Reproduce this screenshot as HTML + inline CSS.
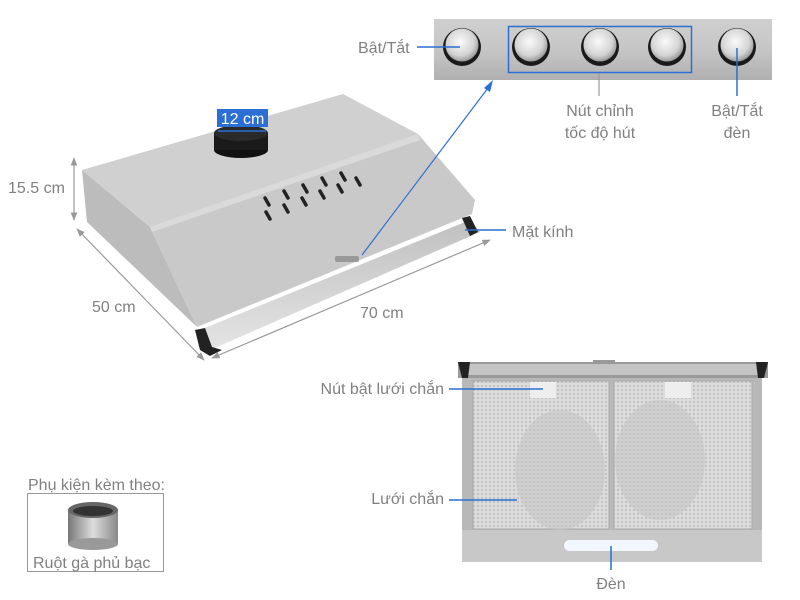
<!DOCTYPE html>
<html><head><meta charset="utf-8"><style>
html,body{margin:0;padding:0;background:#fff;}
svg{display:block;}
text{font-family:"Liberation Sans","Noto Sans CJK SC",sans-serif;fill:#808080;font-size:16px;}
</style></head><body>
<svg width="800" height="600" viewBox="0 0 800 600" xmlns="http://www.w3.org/2000/svg">
<defs>
<linearGradient id="panel" x1="0" y1="0" x2="0" y2="1">
<stop offset="0" stop-color="#cfcfcf"/><stop offset="0.5" stop-color="#c6c6c6"/><stop offset="1" stop-color="#b0b0b0"/></linearGradient>
<radialGradient id="btn" cx="0.45" cy="0.4" r="0.6">
<stop offset="0" stop-color="#fafafa"/><stop offset="0.7" stop-color="#d4d4d4"/><stop offset="1" stop-color="#999"/></radialGradient>
<pattern id="mesh" width="4" height="4" patternUnits="userSpaceOnUse">
<rect width="4" height="4" fill="#dcdcdc"/><circle cx="2" cy="2" r="0.9" fill="#b0b0b0"/></pattern>
<linearGradient id="glass" x1="0" y1="0" x2="0" y2="1"><stop offset="0" stop-color="#c0c0c0"/><stop offset="1" stop-color="#e4e4e4"/></linearGradient>
<linearGradient id="duct" x1="0" y1="0" x2="1" y2="0"><stop offset="0" stop-color="#777"/><stop offset="0.5" stop-color="#ddd"/><stop offset="1" stop-color="#888"/></linearGradient>
<marker id="ah" viewBox="0 0 10 10" refX="9" refY="5" markerWidth="7" markerHeight="7" orient="auto-start-reverse"><path d="M0,1 L10,5 L0,9 z" fill="#999"/></marker>
</defs>

<!-- Hood perspective -->
<polygon points="200,330 470,220 480,232 210,350" fill="url(#glass)"/>
<polygon points="82,170 87,222 197,327 150,227" fill="#bcbcbc"/>
<polygon points="82,170 343,94 418,134 150,227" fill="#d0d0d0"/>
<polygon points="150,227 418,134 475,200 472,214 197,327" fill="#c9c9c9"/>
<polygon points="150,227 418,134 420,140 152,232" fill="#dadada"/>
<g stroke="#222" stroke-width="3.5" stroke-linecap="round">
<line x1="265" y1="198" x2="269" y2="205"/><line x1="266" y1="212" x2="270" y2="219"/>
<line x1="284" y1="191" x2="288" y2="198"/><line x1="284" y1="205" x2="288" y2="212"/>
<line x1="303" y1="185" x2="307" y2="192"/><line x1="302" y1="198" x2="306" y2="205"/>
<line x1="322" y1="178" x2="326" y2="185"/><line x1="320" y1="191" x2="324" y2="198"/>
<line x1="341" y1="173" x2="345" y2="180"/><line x1="338" y1="185" x2="342" y2="192"/>
<line x1="356" y1="178" x2="360" y2="185"/>
</g>
<g fill="#999"><rect x="335" y="256" width="24" height="6" rx="2"/></g>
<polygon points="195,330 205,328 212,347 222,350 210,356 200,350" fill="#222"/>
<polygon points="462,218 470,216 478,232 470,236" fill="#222"/>
<!-- duct -->
<ellipse cx="241" cy="150" rx="27" ry="8" fill="#111"/>
<rect x="214" y="133" width="54" height="17" fill="#1a1a1a"/>
<ellipse cx="241" cy="133" rx="27" ry="8" fill="#2a2a2a"/>
<rect x="217" y="109" width="51" height="18" fill="#2b6fd4"/>
<text x="242.5" y="124" text-anchor="middle" style="fill:#fff;font-size:16px">12 cm</text>
<line x1="218" y1="131" x2="266" y2="131" stroke="#2b6fd4" stroke-width="1.5"/>

<!-- dimension lines -->
<g stroke="#999" stroke-width="1.2">
<line x1="74" y1="158" x2="74" y2="220" marker-start="url(#ah)" marker-end="url(#ah)"/>
<line x1="77" y1="229" x2="204" y2="360" marker-start="url(#ah)" marker-end="url(#ah)"/>
<line x1="212" y1="358" x2="490" y2="240" marker-start="url(#ah)" marker-end="url(#ah)"/>
</g>
<text x="8" y="193">15.5 cm</text>
<text x="92" y="312">50 cm</text>
<text x="360" y="318">70 cm</text>

<!-- control panel -->
<rect x="434" y="19" width="338" height="61" fill="url(#panel)"/>
<g>
<circle cx="462" cy="47" r="19" fill="#1a1a1a"/><circle cx="462" cy="45" r="16.5" fill="url(#btn)"/>
<circle cx="531" cy="47" r="19" fill="#1a1a1a"/><circle cx="531" cy="45" r="16.5" fill="url(#btn)"/>
<circle cx="600" cy="47" r="19" fill="#1a1a1a"/><circle cx="600" cy="45" r="16.5" fill="url(#btn)"/>
<circle cx="667" cy="47" r="19" fill="#1a1a1a"/><circle cx="667" cy="45" r="16.5" fill="url(#btn)"/>
<circle cx="737" cy="47" r="19" fill="#1a1a1a"/><circle cx="737" cy="45" r="16.5" fill="url(#btn)"/>
</g>
<rect x="508.5" y="26.5" width="183" height="46" fill="none" stroke="#2b6fd4" stroke-width="1.5"/>
<text x="358" y="53">Bật/Tắt</text>
<line x1="417" y1="47" x2="460" y2="47" stroke="#2b6fd4" stroke-width="1.5"/>
<line x1="599" y1="73" x2="599" y2="96" stroke="#999" stroke-width="1.2"/>
<text x="600" y="116" text-anchor="middle">Nút chỉnh</text>
<text x="600" y="138" text-anchor="middle">tốc độ hút</text>
<line x1="737" y1="48" x2="737" y2="96" stroke="#2b6fd4" stroke-width="1.5"/>
<text x="737" y="116" text-anchor="middle">Bật/Tắt</text>
<text x="737" y="138" text-anchor="middle">đèn</text>
<!-- blue arrow -->
<line x1="362" y1="255" x2="491" y2="84" stroke="#2b6fd4" stroke-width="1.2"/>
<polygon points="493,80 484,88 490,92" fill="#2b6fd4"/>
<line x1="465" y1="230" x2="506" y2="230" stroke="#2b6fd4" stroke-width="1.5"/>
<text x="512" y="237">Mặt kính</text>

<!-- front view -->
<rect x="462" y="376" width="300" height="186" fill="#b8b8b8"/>
<rect x="458" y="362" width="310" height="16" fill="#9a9a9a"/>
<rect x="462" y="364" width="302" height="11" fill="#c4c4c4"/>
<polygon points="458,362 470,362 468,378 462,378" fill="#222"/>
<polygon points="756,362 768,362 764,378 758,378" fill="#222"/>
<rect x="593" y="360" width="22" height="4" fill="#999"/>
<rect x="473" y="381" width="136" height="148" fill="url(#mesh)" stroke="#aaa"/>
<rect x="614" y="381" width="138" height="148" fill="url(#mesh)" stroke="#aaa"/>
<ellipse cx="560" cy="470" rx="45" ry="60" fill="#c4c4c4" opacity="0.55"/>
<ellipse cx="660" cy="460" rx="45" ry="60" fill="#c4c4c4" opacity="0.55"/>
<rect x="530" y="382" width="26" height="16" fill="#eee"/>
<rect x="665" y="382" width="26" height="16" fill="#eee"/>
<rect x="462" y="530" width="300" height="32" fill="#c8c8c8"/>
<rect x="564" y="540" width="94" height="11" rx="5.5" fill="#f2f6ff"/>
<text x="444" y="394" text-anchor="end">Nút bật lưới chắn</text>
<line x1="449" y1="389" x2="543" y2="389" stroke="#2b6fd4" stroke-width="1.5"/>
<text x="444" y="504" text-anchor="end">Lưới chắn</text>
<line x1="449" y1="500" x2="517" y2="500" stroke="#2b6fd4" stroke-width="1.5"/>
<line x1="611" y1="546" x2="611" y2="570" stroke="#2b6fd4" stroke-width="1.5"/>
<text x="611" y="589" text-anchor="middle">Đèn</text>

<!-- accessory -->
<text x="28" y="490">Phụ kiện kèm theo:</text>
<rect x="27.5" y="493.5" width="136" height="78" fill="none" stroke="#999"/>
<rect x="68" y="510" width="50" height="34" fill="url(#duct)"/>
<ellipse cx="93" cy="544" rx="25" ry="6" fill="#999"/>
<ellipse cx="93" cy="510" rx="25" ry="8" fill="#666"/>
<ellipse cx="93" cy="511" rx="20" ry="5" fill="#333"/>
<text x="33" y="568">Ruột gà phủ bạc</text>
</svg>
</body></html>
